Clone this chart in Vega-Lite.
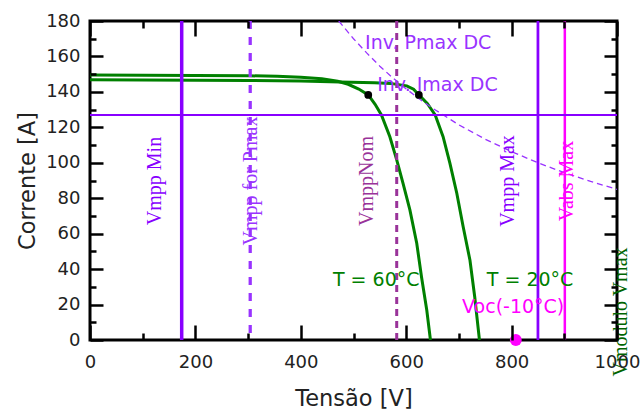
{
  "$schema": "https://vega.github.io/schema/vega-lite/v6.json",
  "width": 527,
  "height": 319,
  "autosize": "none",
  "padding": {"left": 90, "top": 21, "right": 24, "bottom": 74},
  "background": "white",
  "config": {
    "view": {"stroke": "black", "strokeWidth": 3},
    "font": "DejaVu Sans"
  },
  "datasets": {
    "curves": [
      {"series": "60", "v": 0, "i": 149.5},
      {"series": "60", "v": 100, "i": 149.4},
      {"series": "60", "v": 200, "i": 149.3},
      {"series": "60", "v": 300, "i": 149.1},
      {"series": "60", "v": 355, "i": 148.8},
      {"series": "60", "v": 400, "i": 148.2},
      {"series": "60", "v": 440, "i": 147.4},
      {"series": "60", "v": 470, "i": 146},
      {"series": "60", "v": 490, "i": 144.3},
      {"series": "60", "v": 510, "i": 141.6},
      {"series": "60", "v": 528, "i": 138.3},
      {"series": "60", "v": 541, "i": 133},
      {"series": "60", "v": 553, "i": 127},
      {"series": "60", "v": 569, "i": 114.7},
      {"series": "60", "v": 582, "i": 101.6},
      {"series": "60", "v": 594, "i": 88.4},
      {"series": "60", "v": 607, "i": 73.4},
      {"series": "60", "v": 620, "i": 54.6},
      {"series": "60", "v": 629, "i": 35.7},
      {"series": "60", "v": 639, "i": 16.9},
      {"series": "60", "v": 646, "i": 0},
      {"series": "20", "v": 0, "i": 146.8},
      {"series": "20", "v": 100, "i": 146.7},
      {"series": "20", "v": 200, "i": 146.6},
      {"series": "20", "v": 300, "i": 146.4},
      {"series": "20", "v": 400, "i": 146.2},
      {"series": "20", "v": 474, "i": 145.6},
      {"series": "20", "v": 540, "i": 145.2},
      {"series": "20", "v": 570, "i": 144.8},
      {"series": "20", "v": 601, "i": 143.4},
      {"series": "20", "v": 614, "i": 141.5},
      {"series": "20", "v": 624, "i": 138.3},
      {"series": "20", "v": 640, "i": 133.5},
      {"series": "20", "v": 655, "i": 127},
      {"series": "20", "v": 670, "i": 114.7},
      {"series": "20", "v": 683, "i": 99.7},
      {"series": "20", "v": 696, "i": 82.8},
      {"series": "20", "v": 708, "i": 64},
      {"series": "20", "v": 721, "i": 45},
      {"series": "20", "v": 730, "i": 24.4},
      {"series": "20", "v": 739, "i": 0}
    ],
    "pmax": [
      {"v": 472, "i": 180},
      {"v": 500, "i": 170},
      {"v": 525, "i": 162},
      {"v": 550, "i": 154.5},
      {"v": 575, "i": 147.8},
      {"v": 600, "i": 141.7},
      {"v": 625, "i": 136},
      {"v": 650, "i": 130.8},
      {"v": 700, "i": 121.4},
      {"v": 750, "i": 113.3},
      {"v": 800, "i": 106.3},
      {"v": 850, "i": 100},
      {"v": 900, "i": 94.4},
      {"v": 950, "i": 89.5},
      {"v": 1000, "i": 85}
    ],
    "vlines": [
      {"name": "Vmpp Min", "v": 174},
      {"name": "Vmpp for Pmax", "v": 304},
      {"name": "VmppNom", "v": 582},
      {"name": "Vmpp Max", "v": 850},
      {"name": "Vabs Max", "v": 901}
    ],
    "hlines": [{"name": "Inv. Imax DC", "i": 127}],
    "mpp": [
      {"series": "60", "v": 528, "i": 138.3},
      {"series": "20", "v": 624, "i": 138.3}
    ],
    "voc": [{"name": "Voc(-10°C)", "v": 808, "i": 0}],
    "labels": [
      {"label": "Inv. Pmax DC", "v": 522, "i": 167.6},
      {"label": "Inv. Imax DC", "v": 545, "i": 143.9},
      {"label": "T = 60°C", "v": 461, "i": 33.9},
      {"label": "T = 20°C", "v": 753, "i": 33.9},
      {"label": "Voc(-10°C)", "v": 706, "i": 18.8}
    ],
    "vlabels": [
      {"label": "Vmpp Min", "v": 123, "i": 89.7},
      {"label": "Vmpp for Pmax", "v": 306, "i": 89.7},
      {"label": "VmppNom", "v": 526, "i": 89.7},
      {"label": "Vmpp Max", "v": 793, "i": 89.7},
      {"label": "Vabs Max", "v": 905, "i": 89.7},
      {"label": "Vmodulo Vmax", "v": 1008, "i": 15.8}
    ]
  },
  "layer": [
    {
      "data": {"name": "curves"},
      "mark": {"type": "line", "color": "#008000", "strokeWidth": 3, "clip": true},
      "encoding": {
        "x": {
          "field": "v", "type": "quantitative",
          "scale": {"domain": [0, 1000], "nice": false, "zero": false},
          "axis": {
            "orient": "bottom",
            "title": "Tensão [V]",
            "tickCount": 10,
            "format": "d",
            "labelExpr": "datum.value % 200 === 0 ? datum.label : ''",
            "ticks": true,
            "tickSize": {"condition": {"test": "datum.value % 200 === 0", "value": -15}, "value": -7},
            "tickWidth": 2.5,
            "tickColor": "black",
            "domain": false,
            "grid": false,
            "zindex": 5,
            "labelFont": "DejaVu Sans",
            "labelFontSize": 18,
            "labelColor": "#222222",
            "labelPadding": 28,
            "labelFlush": false,
            "labelOverlap": false,
            "titleFont": "DejaVu Sans",
            "titleFontSize": 22.5,
            "titleFontWeight": "normal",
            "titleColor": "#222222",
            "titlePadding": 8
          }
        },
        "y": {
          "field": "i", "type": "quantitative",
          "scale": {"domain": [0, 180], "nice": false, "zero": false},
          "axis": {
            "orient": "left",
            "title": "Corrente [A]",
            "tickCount": 18,
            "labelExpr": "datum.value % 20 === 0 ? datum.label : ''",
            "ticks": true,
            "tickSize": {"condition": {"test": "datum.value % 20 === 0", "value": -13}, "value": -6},
            "tickWidth": 2.5,
            "tickColor": "black",
            "domain": false,
            "grid": false,
            "zindex": 5,
            "labelFont": "DejaVu Sans",
            "labelFontSize": 18,
            "labelColor": "#222222",
            "labelPadding": 23,
            "labelFlush": false,
            "labelOverlap": false,
            "titleFont": "DejaVu Sans",
            "titleFontSize": 22.5,
            "titleFontWeight": "normal",
            "titleColor": "#222222",
            "titlePadding": 6
          }
        },
        "detail": {"field": "series", "type": "nominal"}
      }
    },
    {
      "data": {"name": "pmax"},
      "mark": {"type": "line", "color": "#9933ff", "strokeWidth": 1.3, "strokeDash": [6, 4], "clip": true},
      "encoding": {
        "x": {
          "field": "v", "type": "quantitative",
          "axis": {
            "orient": "top",
            "title": null,
            "tickCount": 10,
            "labelOpacity": 0,
            "ticks": true,
            "tickSize": {"condition": {"test": "datum.value % 200 === 0", "value": -15}, "value": -7},
            "tickWidth": 2.5,
            "tickColor": "black",
            "domain": false,
            "grid": false,
            "zindex": 5
          }
        },
        "y": {
          "field": "i", "type": "quantitative",
          "axis": {
            "orient": "right",
            "title": null,
            "tickCount": 18,
            "labelOpacity": 0,
            "ticks": true,
            "tickSize": {"condition": {"test": "datum.value % 20 === 0", "value": -13}, "value": -6},
            "tickWidth": 2.5,
            "tickColor": "black",
            "domain": false,
            "grid": false,
            "zindex": 5
          }
        }
      }
    },
    {
      "layer": [
        {
          "data": {"name": "vlines"},
          "mark": {"type": "rule"},
          "encoding": {
            "x": {"field": "v", "type": "quantitative", "axis": null},
            "color": {
              "field": "name", "type": "nominal", "legend": null,
              "scale": {
                "domain": ["Vmpp Min", "Vmpp for Pmax", "VmppNom", "Vmpp Max", "Vabs Max"],
                "range": ["#8800ff", "#9933ff", "#993399", "#8800ff", "#ff00ff"]
              }
            },
            "strokeDash": {
              "field": "name", "type": "nominal", "legend": null,
              "scale": {
                "domain": ["Vmpp Min", "Vmpp for Pmax", "VmppNom", "Vmpp Max", "Vabs Max"],
                "range": [[1, 0], [8, 8], [7, 5], [1, 0], [1, 0]]
              }
            },
            "strokeWidth": {
              "field": "name", "type": "nominal", "legend": null,
              "scale": {
                "domain": ["Vmpp Min", "Vmpp for Pmax", "VmppNom", "Vmpp Max", "Vabs Max"],
                "range": [3.5, 2.5, 2, 3.5, 3.5]
              }
            }
          }
        },
        {
          "data": {"name": "hlines"},
          "mark": {"type": "rule", "color": "#8800ff", "strokeWidth": 2},
          "encoding": {
            "y": {"field": "i", "type": "quantitative", "axis": null}
          }
        },
        {
          "data": {"name": "mpp"},
          "mark": {"type": "point", "filled": true, "color": "black", "opacity": 1, "size": 60},
          "encoding": {
            "x": {"field": "v", "type": "quantitative", "axis": null},
            "y": {"field": "i", "type": "quantitative", "axis": null}
          }
        },
        {
          "data": {"name": "voc"},
          "mark": {"type": "point", "filled": true, "color": "#ff00ff", "opacity": 1, "size": 140, "clip": false},
          "encoding": {
            "x": {"field": "v", "type": "quantitative", "axis": null},
            "y": {"field": "i", "type": "quantitative", "axis": null}
          }
        },
        {
          "data": {"name": "labels"},
          "mark": {"type": "text", "align": "left", "baseline": "middle", "font": "DejaVu Sans", "fontSize": 19},
          "encoding": {
            "x": {"field": "v", "type": "quantitative", "axis": null},
            "y": {"field": "i", "type": "quantitative", "axis": null},
            "text": {"field": "label"},
            "color": {
              "field": "label", "type": "nominal", "legend": null,
              "scale": {
                "domain": ["Inv. Pmax DC", "Inv. Imax DC", "T = 60°C", "T = 20°C", "Voc(-10°C)"],
                "range": ["#9933ff", "#9933ff", "#008000", "#008000", "#ff00ff"]
              }
            }
          }
        },
        {
          "data": {"name": "vlabels"},
          "mark": {"type": "text", "align": "center", "baseline": "middle", "angle": 270, "font": "Liberation Serif", "fontSize": 20},
          "encoding": {
            "x": {"field": "v", "type": "quantitative", "axis": null},
            "y": {"field": "i", "type": "quantitative", "axis": null},
            "text": {"field": "label"},
            "color": {
              "field": "label", "type": "nominal", "legend": null,
              "scale": {
                "domain": ["Vmpp Min", "Vmpp for Pmax", "VmppNom", "Vmpp Max", "Vabs Max", "Vmodulo Vmax"],
                "range": ["#8800ff", "#9933ff", "#993399", "#8800ff", "#ff00ff", "#006400"]
              }
            }
          }
        }
      ],
      "resolve": {
        "scale": {"color": "independent", "strokeDash": "independent", "strokeWidth": "independent"}
      }
    }
  ],
  "resolve": {
    "axis": {"x": "independent", "y": "independent"},
    "scale": {"color": "independent", "strokeDash": "independent", "strokeWidth": "independent"}
  }
}
